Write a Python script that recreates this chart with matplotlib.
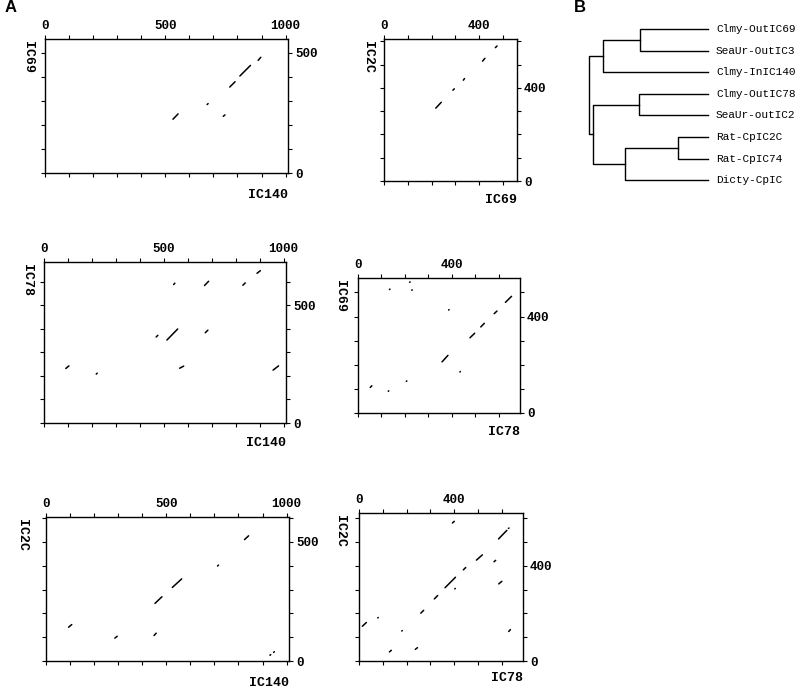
import matplotlib
matplotlib.use('Agg')
import matplotlib.pyplot as plt

W, H = 800, 690

# dot plot segments, (x0, y0, x1, y1) in residue numbers
seg_ic69_ic140 = [(532, 224, 553, 246), (674, 285, 678, 289), (741, 236, 748, 242),
                  (768, 358, 790, 380), (810, 404, 854, 448), (886, 469, 897, 482)]
seg_ic2c_ic69 = [(218, 313, 241, 338), (290, 390, 296, 396), (334, 433, 339, 440),
                 (415, 515, 425, 527), (469, 573, 476, 580)]
seg_ic78_ic140 = [(91, 232, 104, 243), (218, 208, 222, 212), (468, 366, 475, 373),
                  (513, 353, 558, 400), (566, 233, 583, 242), (541, 589, 546, 595),
                  (670, 585, 687, 603), (673, 384, 684, 395), (830, 586, 840, 596),
                  (889, 637, 903, 648), (956, 225, 979, 243)]
seg_ic69_ic78 = [(52, 106, 59, 113), (129, 90, 131, 92), (134, 512, 136, 514),
                 (206, 131, 208, 133), (220, 542, 222, 544), (229, 509, 231, 511),
                 (386, 427, 388, 429), (358, 212, 383, 239), (434, 170, 436, 172),
                 (477, 312, 497, 331), (523, 357, 538, 372), (580, 412, 592, 423),
                 (628, 459, 654, 484)]
seg_ic2c_ic140 = [(94, 142, 107, 153), (286, 96, 296, 104), (449, 107, 458, 117),
                  (453, 242, 482, 270), (525, 309, 564, 345), (713, 399, 717, 403),
                  (825, 510, 842, 526), (931, 24, 934, 27), (946, 36, 949, 39)]
seg_ic2c_ic78 = [(14, 146, 31, 162), (79, 181, 81, 183), (128, 38, 136, 45),
                 (180, 126, 182, 128), (237, 49, 246, 56), (260, 201, 272, 213),
                 (317, 261, 331, 275), (362, 308, 406, 352), (403, 303, 405, 305),
                 (393, 580, 401, 587), (439, 383, 449, 393), (494, 424, 519, 446),
                 (568, 417, 575, 423), (588, 324, 601, 335), (587, 513, 622, 549),
                 (629, 557, 631, 559), (630, 124, 637, 132)]

# panels: x name, y name, segments, x length, y length, labelled ticks
panels = [
    ('IC140', 'IC69', seg_ic69_ic140, 1010, 558, [0, 500, 1000], [0, 500]),
    ('IC69', 'IC2C', seg_ic2c_ic69, 560, 610, [0, 400], [0, 400]),
    ('IC140', 'IC78', seg_ic78_ic140, 1010, 685, [0, 500, 1000], [0, 500]),
    ('IC78', 'IC69', seg_ic69_ic78, 690, 560, [0, 400], [0, 400]),
    ('IC140', 'IC2C', seg_ic2c_ic140, 1010, 605, [0, 500, 1000], [0, 500]),
    ('IC78', 'IC2C', seg_ic2c_ic78, 690, 622, [0, 400], [0, 400]),
]
# pixel boxes (left, top, right, bottom)
boxes = [(45, 39, 288, 173), (384, 39, 517, 181), (44, 262, 286, 423),
         (358, 278, 520, 413), (46, 517, 289, 661), (359, 513, 523, 661)]
ylab_x = [28, 368, 27, 340, 22, 340]
xlab_y = [195, 200, 443, 432, 683, 678]

# tree
leaves = ['Clmy-OutIC69', 'SeaUr-OutIC3', 'Clmy-InIC140', 'Clmy-OutIC78',
          'SeaUr-outIC2', 'Rat-CpIC2C', 'Rat-CpIC74', 'Dicty-CpIC']
# merges: (child a, child b, height); leaves are 0..7, new nodes 8..
merges = [(0, 1, 68), (8, 2, 105), (3, 4, 69), (5, 6, 30),
          (11, 7, 83), (10, 12, 115), (9, 13, 119)]

mono = 'Liberation Mono'
fig = plt.figure(figsize=(W / 100, H / 100), dpi=100)


def fx(x):
    return x / W


def fy(y):
    return 1 - y / H


for (xn, yn, segs, xl, yl, xt, yt), (l, t, r, b), lx, ly in zip(panels, boxes, ylab_x, xlab_y):
    ax = fig.add_axes([fx(l), fy(b), (r - l) / W, (b - t) / H])
    for x0, y0, x1, y1 in segs:
        ax.plot([x0, x1], [y0, y1], color='black', lw=1.1, solid_capstyle='round')
    ax.set_xlim(0, xl)
    ax.set_ylim(0, yl)
    ax.set_xticks(range(0, xl + 1, 100), minor=True)
    ax.set_yticks(range(0, yl + 1, 100), minor=True)
    ax.set_xticks(xt)
    ax.set_yticks(yt)
    ax.tick_params(which='both', direction='out', length=3, width=0.8,
                   top=True, bottom=True, left=True, right=True,
                   labeltop=True, labelbottom=False, labelleft=False, labelright=True,
                   pad=2, labelsize=9)
    for lab in ax.get_xticklabels() + ax.get_yticklabels():
        lab.set_fontfamily(mono)
        lab.set_fontweight('bold')
    for s in ax.spines.values():
        s.set_linewidth(1.0)
    fig.text(fx(lx), fy(t + 2), yn, rotation=270, ha='center', va='top',
             family=mono, weight='bold', fontsize=9.5)
    fig.text(fx(r), fy(ly), xn, ha='right', va='center',
             family=mono, weight='bold', fontsize=9.5)

# dendrogram in pixel coords
tax = fig.add_axes([0, 0, 1, 1], facecolor='none')
tax.set_xlim(0, W)
tax.set_ylim(H, 0)
tax.axis('off')
leaf_x = 708
pos = {i: (leaf_x, 29 + i * 21.6) for i in range(len(leaves))}
for i, name in enumerate(leaves):
    tax.text(leaf_x + 8, pos[i][1], name, ha='left', va='center',
             family=mono, fontsize=8)
for k, (a, b, h) in enumerate(merges):
    nx = leaf_x - h
    (xa, ya), (xb, yb) = pos[a], pos[b]
    tax.plot([xa, nx, nx, xb], [ya, ya, yb, yb], color='black', lw=1.0)
    pos[len(leaves) + k] = (nx, (ya + yb) / 2)

fig.text(fx(5), fy(8), 'A', family='Liberation Sans', weight='bold', fontsize=12, va='center')
fig.text(fx(574), fy(8), 'B', family='Liberation Sans', weight='bold', fontsize=12, va='center')

plt.savefig('out.png', dpi=100)
